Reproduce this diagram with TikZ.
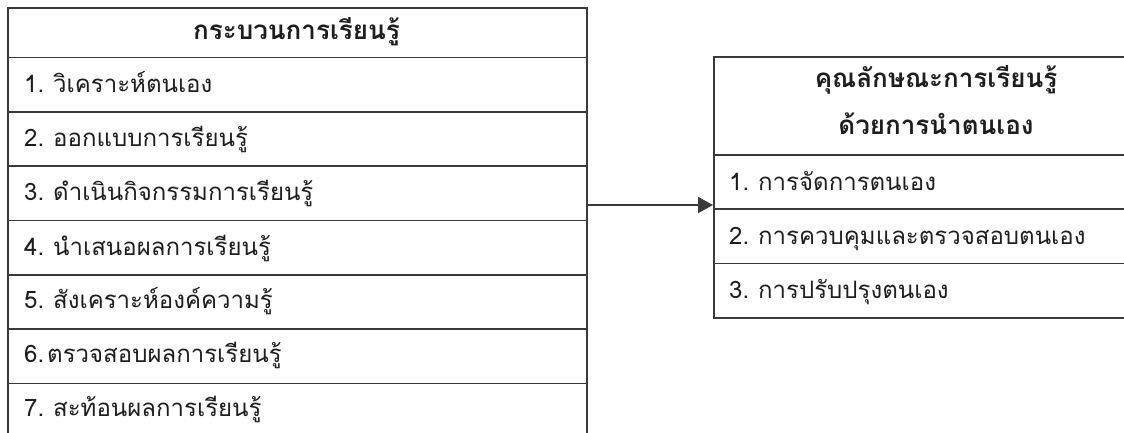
\documentclass[tikz,border=0pt]{standalone}
\usepackage{fontspec}
\newfontfamily\thai[Script=Thai]{Loma}
\usetikzlibrary{arrows.meta}
\definecolor{ln}{HTML}{3A3A3A}
\definecolor{tx}{HTML}{1E1E1E}
\begin{document}
\begin{tikzpicture}[x=1pt,y=-1pt,
  cell/.style={draw=ln,line width=1.6pt,rectangle,inner sep=0pt,anchor=north west},
  lcell/.style={cell,minimum width=579pt,minimum height=54.35pt},
  rcell/.style={cell,minimum width=446pt,minimum height=54.3pt},
  txt/.style={inner sep=0pt,anchor=base west,font=\thai\fontsize{24}{28}\selectfont,text=tx},
  hd/.style={inner sep=0pt,anchor=base,font=\thai\bfseries\fontsize{26}{30}\selectfont,text=tx},
  arr/.style={draw=ln,line width=1.6pt,-{Triangle[length=15pt,width=16pt]}}]
\useasboundingbox (0,0) rectangle (1124,432);
\clip (0,0) rectangle (1124,432);
\fill[white] (0,0) rectangle (1124,432);
% left table
\node[cell,minimum width=579pt,minimum height=49.4pt] (lh) at (7,7.3) {};
\node[lcell] (l1) at (7,56.7) {};
\node[lcell] (l2) at (7,111.05) {};
\node[lcell] (l3) at (7,165.4) {};
\node[lcell] (l4) at (7,219.75) {};
\node[lcell] (l5) at (7,274.1) {};
\node[lcell] (l6) at (7,328.45) {};
\node[lcell] (l7) at (7,382.8) {};
\node[hd] (lht) at (296.5,39) {กระบวนการเรียนรู้};
\node[txt] (l1t) at (24,92) {1.\hspace{9pt}วิเคราะห์ตนเอง};
\node[txt] (l2t) at (24,146.5) {2.\hspace{9pt}ออกแบบการเรียนรู้};
\node[txt] (l3t) at (24,200.5) {3.\hspace{9pt}ดำเนินกิจกรรมการเรียนรู้};
\node[txt] (l4t) at (24,255) {4.\hspace{9pt}นำเสนอผลการเรียนรู้};
\node[txt] (l5t) at (24,308.5) {5.\hspace{9pt}สังเคราะห์องค์ความรู้};
\node[txt] (l6t) at (24,362.5) {6.\hspace{3pt}ตรวจสอบผลการเรียนรู้};
\node[txt] (l7t) at (24,416) {7.\hspace{9pt}สะท้อนผลการเรียนรู้};
% right table
\node[cell,minimum width=446pt,minimum height=98pt] (rh) at (713,56) {};
\node[rcell] (r1) at (713,154) {};
\node[rcell] (r2) at (713,208.3) {};
\node[rcell] (r3) at (713,262.6) {};
\node[hd] (rht1) at (936,87) {คุณลักษณะการเรียนรู้};
\node[hd] (rht2) at (936,134) {ด้วยการนำตนเอง};
\node[txt] (r1t) at (729,190) {1.\hspace{9pt}การจัดการตนเอง};
\node[txt] (r2t) at (729,244) {2.\hspace{9pt}การควบคุมและตรวจสอบตนเอง};
\node[txt] (r3t) at (729,298) {3.\hspace{9pt}การปรับปรุงตนเอง};
% connector
\draw[arr] (l3.east |- 0,205) -- (r1.west |- 0,205);
\end{tikzpicture}
\end{document}
